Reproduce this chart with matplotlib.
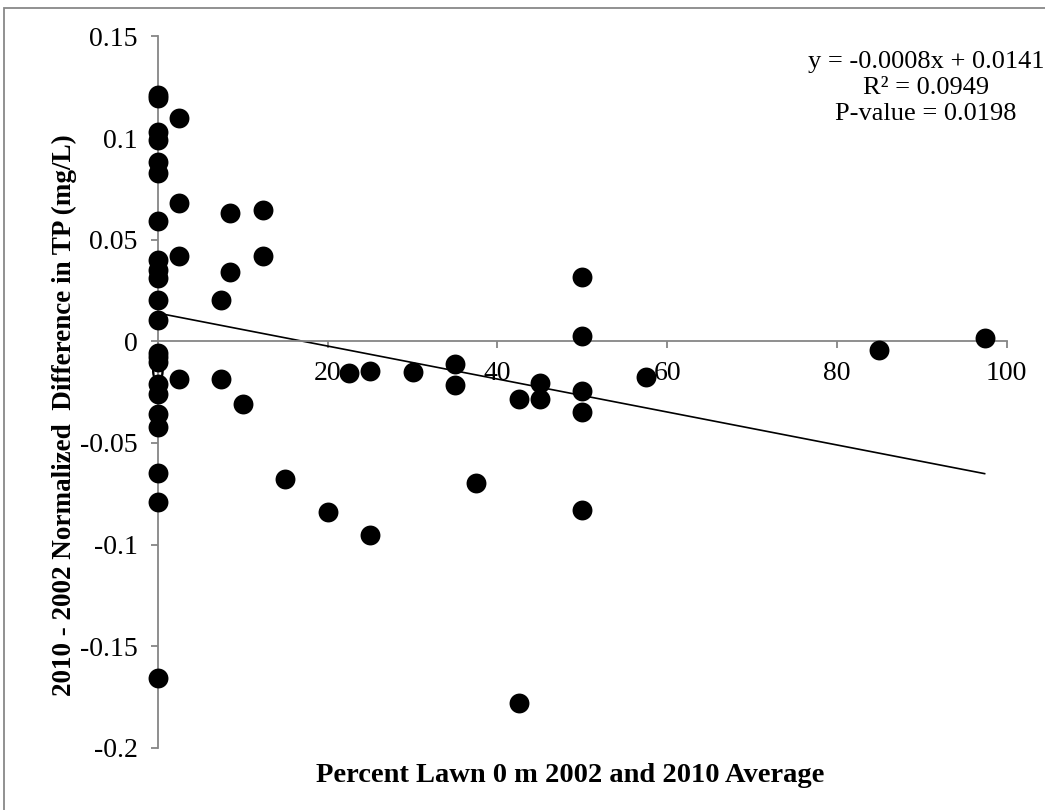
import numpy as np
import matplotlib
matplotlib.use('Agg')
import matplotlib.pyplot as plt
import matplotlib.patches as mpatches

GRAY = '#868686'

plt.rcParams.update({
    'font.family': ['Liberation Serif', 'DejaVu Serif'],
    'font.size': 20,
})

# data
lawn_pct = [0, 0, 0, 0, 0, 0, 0, 0, 0, 0, 0, 0, 0, 0, 0, 0, 0, 0, 0, 0, 0, 0,
            2.5, 2.5, 2.5, 2.5, 7.4, 7.4, 8.5, 8.5, 10, 12.4, 12.4, 15, 20,
            22.5, 25, 25, 30, 35, 35, 37.5, 42.5, 42.5, 45, 45,
            50, 50, 50, 50, 50, 57.5, 85, 97.4]
tp_diff = [0.121, 0.1195, 0.103, 0.099, 0.088, 0.083, 0.059, 0.040, 0.035, 0.031,
           0.0205, 0.0103, -0.006, -0.010, -0.021, -0.026, -0.036, -0.042,
           -0.065, -0.079, -0.1655, -0.0075,
           0.110, 0.068, 0.042, -0.0184, 0.0205, -0.0184, 0.063, 0.034, -0.031,
           0.0645, 0.042, -0.068, -0.084,
           -0.0156, -0.0148, -0.0955, -0.0153, -0.011, -0.0213, -0.0695,
           -0.0284, -0.178, -0.0205, -0.0284,
           0.0316, 0.0025, -0.0245, -0.035, -0.083, -0.0176, -0.0041, 0.0015]
x_ticks = [0, 20, 40, 60, 80, 100]
y_ticks = [-0.2, -0.15, -0.1, -0.05, 0, 0.05, 0.1, 0.15]
y_ticklabels = ['-0.2', '-0.15', '-0.1', '-0.05', '0', '0.05', '0.1', '0.15']
slope, intercept = -0.0008, 0.0141
r2, pval = 0.0949, 0.0198

fig = plt.figure(figsize=(10.45, 8.1), dpi=100)
ax = fig.add_axes([158/1045, 1 - 747.7/810, (1006.7 - 158)/1045, (747.7 - 36.5)/810])
ax.set_xlim(0, 100); ax.set_ylim(-0.2, 0.15)

ax.scatter(lawn_pct, tp_diff, s=205, color='black', zorder=3, clip_on=False, linewidths=0)

# trend line fitted to the points
fit = np.polyfit(lawn_pct, tp_diff, 1)
xl = np.array([0, max(lawn_pct)])
ax.plot(xl, np.polyval(fit, xl), color='black', lw=1.2, zorder=2)

for s in ['top', 'right']:
    ax.spines[s].set_visible(False)
ax.spines['bottom'].set_position(('data', 0))
for s in ['left', 'bottom']:
    ax.spines[s].set_color(GRAY); ax.spines[s].set_linewidth(1.3)
ax.set_xticks(x_ticks); ax.set_xticklabels([str(v) for v in x_ticks])
ax.set_yticks(y_ticks); ax.set_yticklabels(y_ticklabels)
ax.tick_params(direction='out', length=5, width=1.3, color=GRAY, labelsize=20)
ax.tick_params(axis='y', pad=9.5)
ax.tick_params(axis='x', pad=9)

fig.text(570/1045, 1 - 775/810, 'Percent Lawn 0 m 2002 and 2010 Average',
         ha='center', va='center', fontsize=20.5, fontweight='bold')
fig.text(64/1045, 1 - 415/810, '2010 - 2002 Normalized  Difference in TP (mg/L)',
         ha='center', va='center', rotation=90, fontsize=19.5, fontweight='bold')
fig.text(926/1045, 1 - 88/810,
         f'y = {slope:.4f}x + {intercept:.4f}\nR² = {r2:.4f}\nP-value = {pval:.4f}',
         ha='center', va='center', fontsize=19, linespacing=1.22, multialignment='center')

fig.patches.append(mpatches.Rectangle((4/1045, -0.05), 1.2, 1 - 8/810 + 0.05, transform=fig.transFigure,
                                      fill=False, edgecolor='#888888', lw=1.3))
plt.savefig('out.png', dpi=100)
